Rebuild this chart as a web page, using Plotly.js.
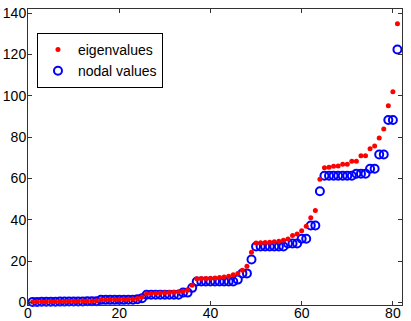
<!DOCTYPE html>
<html>
<head>
<meta charset="utf-8">
<script src="https://cdn.plot.ly/plotly-3.0.1.min.js"></script>
<style>
  html, body { margin: 0; padding: 0; background: #fff; }
  #myDiv { width: 411px; height: 321px; }
</style>
</head>
<body>
<div id="myDiv"></div>
<script>
// values, index 1..81
var eigenvalues = [
  0.2, 0.25, 0.3, 0.3, 0.35, 0.4, 0.4, 0.45, 0.5, 0.5,
  0.55, 0.6, 0.6, 0.65, 0.7, 1.3, 1.3, 1.35, 1.4, 1.4,
  1.45, 1.5, 1.6, 1.9, 2.6, 4.2, 4.3, 4.4, 4.5, 4.6,
  4.7, 4.9, 5.1, 5.3, 5.8, 8.3, 11.4, 11.5, 11.5, 11.6,
  11.8, 12.0, 12.3, 12.6, 13.3, 13.9, 15.5, 17.5, 24.2, 28.7,
  28.8, 29.0, 29.1, 29.3, 29.6, 30.0, 30.6, 32.3, 33.1, 34.6,
  36.8, 40.9, 44.4, 59.6, 65.2, 65.4, 65.9, 66.0, 66.8, 66.8,
  68.3, 68.3, 71.0, 71.0, 74.3, 75.7, 79.6, 83.9, 95.2, 101.9,
  134.8
];
var nodalValues = [
  0.2, 0.2, 0.25, 0.25, 0.3, 0.3, 0.35, 0.35, 0.4, 0.4,
  0.45, 0.45, 0.5, 0.5, 0.55, 1.2, 1.2, 1.2, 1.2, 1.2,
  1.2, 1.3, 1.3, 1.5, 2.0, 3.7, 3.7, 3.7, 3.7, 3.7,
  3.7, 3.7, 3.7, 4.7, 4.7, 7.0, 10.1, 10.1, 10.1, 10.1,
  10.1, 10.1, 10.1, 10.1, 10.1, 11.0, 14.0, 14.0, 20.7, 27.0,
  27.0, 27.0, 27.0, 27.0, 27.0, 27.0, 28.5, 28.5, 28.5, 30.8,
  30.8, 37.2, 37.2, 53.8, 61.3, 61.3, 61.3, 61.3, 61.3, 61.3,
  61.3, 62.3, 62.3, 62.3, 64.7, 64.7, 71.6, 71.6, 88.3, 88.3,
  122.4
];
var xTicks = [0, 20, 40, 60, 80];
var yTicks = [0, 20, 40, 60, 80, 100, 120, 140];

var idx = eigenvalues.map(function (v, i) { return i + 1; });

// blue first so the red dots sit on top, legend reversed to match
var nodal = {
  x: idx,
  y: nodalValues,
  mode: "markers",
  type: "scatter",
  name: "nodal values",
  marker: { color: "#0000ff", size: 8, symbol: "circle-open",
            line: { color: "#0000ff", width: 2 } },
  cliponaxis: false
};
var eig = {
  x: idx,
  y: eigenvalues,
  mode: "markers",
  type: "scatter",
  name: "eigenvalues",
  marker: { color: "#ff0000", size: 5, symbol: "circle" },
  cliponaxis: false
};

var axisCommon = {
  showgrid: false,
  zeroline: false,
  showline: true,
  linecolor: "#333",
  linewidth: 1,
  mirror: "ticks",
  ticks: "inside",
  ticklen: 4,
  tickcolor: "#333",
  tickfont: { size: 14, color: "#000" }
};

var layout = {
  width: 411,
  height: 321,
  margin: { l: 28, r: 9, t: 9, b: 16 },
  paper_bgcolor: "#fff",
  plot_bgcolor: "#fff",
  font: { family: "Liberation Sans, Arial, sans-serif", size: 14, color: "#000" },
  showlegend: true,
  legend: {
    x: 0.024, y: 0.919, xanchor: "left", yanchor: "top",
    bgcolor: "#fff", bordercolor: "#000", borderwidth: 1,
    traceorder: "reversed",
    font: { size: 14 }, tracegroupgap: 0
  },
  xaxis: Object.assign({}, axisCommon, {
    range: [0, 82], tickvals: xTicks, ticktext: xTicks.map(String),
    ticklabelstandoff: -5
  }),
  yaxis: Object.assign({}, axisCommon, {
    range: [-1.3, 142], tickvals: yTicks, ticktext: yTicks.map(String),
    ticklabelstandoff: -2
  })
};

Plotly.newPlot("myDiv", [nodal, eig], layout, { displayModeBar: false, staticPlot: true });
</script>
</body>
</html>
